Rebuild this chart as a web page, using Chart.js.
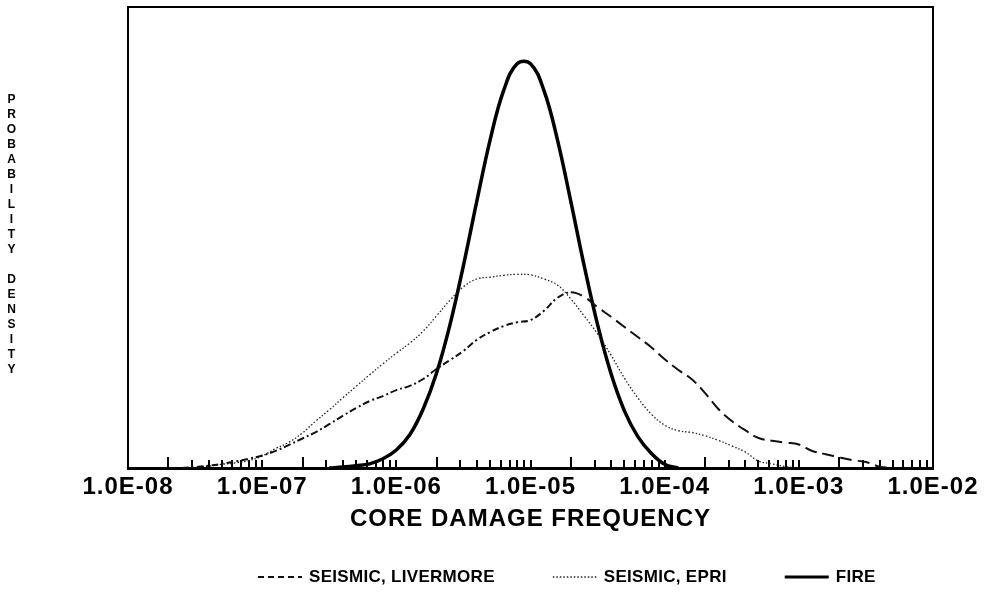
<!DOCTYPE html>
<html>
<head>
<meta charset="utf-8">
<script src="https://cdn.jsdelivr.net/npm/chart.js@4.4.0/dist/chart.umd.min.js"></script>
<style>
  html, body { margin: 0; padding: 0; background: #fff; }
</style>
</head>
<body>
<canvas id="cdf" width="986" height="606"></canvas>
<script>
// core damage frequency grid (log steps of 0.1)
var freq = [
  2.512e-8, 3.162e-8, 3.981e-8, 5.012e-8, 6.310e-8, 7.943e-8,
  1.000e-7, 1.259e-7, 1.585e-7, 1.995e-7, 2.512e-7, 3.162e-7, 3.981e-7, 5.012e-7, 6.310e-7, 7.943e-7,
  1.000e-6, 1.259e-6, 1.585e-6, 1.995e-6, 2.512e-6, 3.162e-6, 3.981e-6, 5.012e-6, 6.310e-6, 7.943e-6,
  1.000e-5, 1.259e-5, 1.585e-5, 1.995e-5, 2.512e-5, 3.162e-5, 3.981e-5, 5.012e-5, 6.310e-5, 7.943e-5,
  1.000e-4, 1.259e-4, 1.585e-4, 1.995e-4, 2.512e-4, 3.162e-4, 3.981e-4, 5.012e-4, 6.310e-4, 7.943e-4,
  1.000e-3, 1.259e-3, 1.585e-3, 1.995e-3, 2.512e-3, 3.162e-3, 3.981e-3, 5.012e-3
];

// probability density (arbitrary units, 0-100)
var livermore = [
  0, 0.2, 0.5, 0.9, 1.4, 2.0,
  2.7, 3.7, 5.0, 6.4, 7.8, 9.5, 11.3, 13.0, 14.5, 15.6,
  16.9, 17.8, 19.3, 21.5, 23.4, 25.4, 27.8, 29.5, 30.8, 31.6,
  32.1, 34.1, 36.9, 38.1, 37.1, 34.9, 32.8, 30.6, 28.4, 26.2,
  23.6, 21.3, 19.3, 16.3, 12.8, 10.2, 8.2, 6.5, 5.9, 5.5,
  5.1, 3.7, 3.0, 2.3, 1.7, 1.3, 0.3, 0
];
var epri = [
  0, 0.1, 0.4, 0.8, 1.1, 1.6,
  2.6, 4.2, 5.6, 7.6, 10.2, 12.6, 15.2, 17.7, 20.2, 22.6,
  24.9, 27.1, 29.7, 33.0, 36.4, 39.3, 41.0, 41.4, 41.8, 42.0,
  41.9, 41.0, 39.7, 36.7, 33.0, 29.1, 24.5, 19.5, 15.2, 11.7,
  9.3, 8.1, 7.7, 7.0, 6.0, 4.8, 3.5, 1.5, 0.9, 0.3,
  0, null, null, null, null, null, null, null
];
var fire = [
  null, null, null, null, null, null,
  null, null, null, null, null, 0, 0.2, 0.5, 0.9, 2.0,
  3.9, 7.2, 12.8, 20.6, 31.1, 43.9, 57.9, 71.3, 81.9, 87.7,
  87.7, 81.9, 71.3, 57.9, 43.9, 31.1, 20.5, 12.4, 6.8, 3.2,
  0.8, 0, null, null, null, null, null, null, null, null,
  null, null, null, null, null, null, null, null
];

var decades = [1e-8, 1e-7, 1e-6, 1e-5, 1e-4, 1e-3, 1e-2];
var decadeLabels = ['1.0E-08', '1.0E-07', '1.0E-06', '1.0E-05', '1.0E-04', '1.0E-03', '1.0E-02'];
var seriesNames = ['SEISMIC, LIVERMORE', 'SEISMIC, EPRI', 'FIRE'];
var xTitle = 'CORE DAMAGE FREQUENCY';
var yTitle = 'PROBABILITY DENSITY';
var livermorePeak = 2.1e-5;   // dash-dot left of it, dashed right of it

var FONT = '"Liberation Sans", Arial, sans-serif';

function points(arr) {
  return freq.map(function (f, i) { return { x: f, y: arr[i] }; });
}

// box, inner tick marks, stacked y title, legend
var decor = {
  id: 'decor',
  beforeDraw: function (chart) {
    // the old plotter lettering is wide
    chart.ctx.letterSpacing = '1px';
  },
  beforeDatasetsDraw: function (chart) {
    var a = chart.chartArea, ctx = chart.ctx, xs = chart.scales.x;
    ctx.save();
    ctx.strokeStyle = '#000';
    ctx.lineWidth = 2;
    ctx.strokeRect(a.left, a.top, a.right - a.left, a.bottom - a.top);
    decades.slice(0, -1).forEach(function (d) {
      for (var k = 1; k <= 9; k++) {
        var px = Math.round(xs.getPixelForValue(k * d));
        var len = k === 2 ? 11 : 8;
        ctx.beginPath();
        ctx.moveTo(px, a.bottom);
        ctx.lineTo(px, a.bottom - len);
        ctx.stroke();
      }
    });
    ctx.restore();
  },
  afterDraw: function (chart) {
    var ctx = chart.ctx;
    ctx.save();
    ctx.fillStyle = '#000';
    ctx.textAlign = 'center';
    ctx.textBaseline = 'middle';
    ctx.font = 'bold 12px ' + FONT;
    for (var i = 0; i < yTitle.length; i++) {
      if (yTitle[i] !== ' ') ctx.fillText(yTitle[i], 12, 100 + i * 15);
    }

    // legend
    var x = 258, y = 577, sample = 44;
    ctx.letterSpacing = '0.3px';
    ctx.font = 'bold 17px ' + FONT;
    ctx.textAlign = 'left';
    chart.data.datasets.forEach(function (ds) {
      ctx.save();
      ctx.strokeStyle = ds.borderColor;
      ctx.lineWidth = ds.legendWidth || ds.borderWidth;
      ctx.setLineDash(ds.borderDash || []);
      ctx.beginPath();
      ctx.moveTo(x, y);
      ctx.lineTo(x + sample, y);
      ctx.stroke();
      ctx.restore();
      x += sample + 7;
      ctx.fillText(ds.label, x, y);
      x += ctx.measureText(ds.label).width + 58;
    });
    ctx.restore();
  }
};

new Chart(document.getElementById('cdf'), {
  type: 'line',
  data: {
    datasets: [
      {
        label: seriesNames[0],
        data: points(livermore),
        borderColor: '#111',
        borderWidth: 2,
        borderDash: [6, 4],
        segment: {
          borderDash: function (c) { return c.p1.parsed.x <= livermorePeak ? [7, 3, 2, 3] : [12, 6]; }
        }
      },
      {
        label: seriesNames[1],
        data: points(epri),
        borderColor: '#222',
        borderWidth: 1.3,
        borderDash: [1.5, 2]
      },
      {
        label: seriesNames[2],
        data: points(fire),
        borderColor: '#000',
        borderWidth: 3.5,
        legendWidth: 3
      }
    ]
  },
  options: {
    responsive: false,
    animation: false,
    layout: { padding: { left: 128, right: 53, top: 7, bottom: 0 } },
    elements: {
      point: { radius: 0 },
      line: { tension: 0.4, fill: false }
    },
    plugins: {
      legend: { display: false },
      tooltip: { enabled: false }
    },
    scales: {
      x: {
        type: 'logarithmic',
        min: 1e-8,
        max: 1e-2,
        grid: { display: false, drawTicks: false },
        border: { display: true, color: '#000', width: 3 },
        afterBuildTicks: function (s) {
          s.ticks = decades.map(function (v) { return { value: v }; });
        },
        afterFit: function (s) { s.height = 138; },
        ticks: {
          autoSkip: false,
          maxRotation: 0,
          padding: 5,
          color: '#000',
          font: { family: FONT, size: 24, weight: 'bold' },
          callback: function (v) { return decadeLabels[decades.indexOf(v)]; }
        },
        title: {
          display: true,
          text: xTitle,
          color: '#000',
          font: { family: FONT, size: 24, weight: 'bold' },
          padding: { top: 0, bottom: 72 }
        }
      },
      y: { display: false, min: 0, max: 100 }
    }
  },
  plugins: [decor]
});
</script>
</body>
</html>
